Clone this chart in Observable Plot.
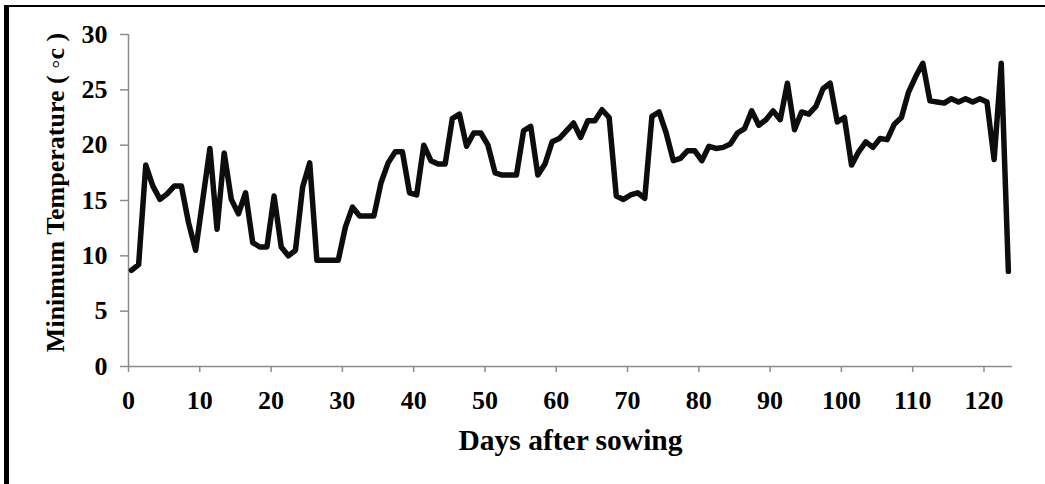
<!DOCTYPE html>
<html>
<head>
<meta charset="utf-8">
<script src="https://cdn.jsdelivr.net/npm/d3@7"></script>
<script src="https://cdn.jsdelivr.net/npm/@observablehq/plot@0.6"></script>
<style>
  html, body { margin: 0; padding: 0; background: #fff; }
  #wrap { position: relative; width: 1045px; height: 484px; overflow: hidden; }
  #edge { position: absolute; left: 4px; top: 5px; right: 0; bottom: 0;
          border-top: 2px solid #000; border-left: 5px solid #000; pointer-events: none; }
  svg { display: block; }
</style>
</head>
<body>
<div id="wrap"><div id="edge"></div></div>
<script>
// Daily minimum temperature after sowing
const days = [
  0, 1, 2, 3, 4, 5, 6, 7, 8, 9,
  10, 11, 12, 13, 14, 15, 16, 17, 18, 19,
  20, 21, 22, 23, 24, 25, 26, 27, 28, 29,
  30, 31, 32, 33, 34, 35, 36, 37, 38, 39,
  40, 41, 42, 43, 44, 45, 46, 47, 48, 49,
  50, 51, 52, 53, 54, 55, 56, 57, 58, 59,
  60, 61, 62, 63, 64, 65, 66, 67, 68, 69,
  70, 71, 72, 73, 74, 75, 76, 77, 78, 79,
  80, 81, 82, 83, 84, 85, 86, 87, 88, 89,
  90, 91, 92, 93, 94, 95, 96, 97, 98, 99,
  100, 101, 102, 103, 104, 105, 106, 107, 108, 109,
  110, 111, 112, 113, 114, 115, 116, 117, 118, 119,
  120, 121, 122, 123
];

const minTemp = [
  8.7, 9.2, 18.2, 16.3, 15.1, 15.6, 16.3, 16.3, 13.0, 10.5,
  15.1, 19.7, 12.4, 19.3, 15.1, 13.8, 15.7, 11.2, 10.8, 10.8,
  15.4, 10.8, 10.0, 10.5, 16.2, 18.4, 9.6, 9.6, 9.6, 9.6,
  12.6, 14.4, 13.6, 13.6, 13.6, 16.6, 18.4, 19.4, 19.4, 15.7,
  15.5, 20.0, 18.6, 18.3, 18.3, 22.4, 22.8, 19.9, 21.1, 21.1,
  20.0, 17.5, 17.3, 17.3, 17.3, 21.3, 21.7, 17.3, 18.3, 20.3,
  20.6, 21.3, 22.0, 20.7, 22.2, 22.2, 23.2, 22.5, 15.4, 15.1,
  15.5, 15.7, 15.2, 22.6, 23.0, 21.1, 18.6, 18.8, 19.5, 19.5,
  18.6, 19.9, 19.7, 19.8, 20.1, 21.1, 21.5, 23.1, 21.8, 22.3,
  23.1, 22.3, 25.6, 21.4, 23.0, 22.8, 23.5, 25.1, 25.6, 22.1,
  22.5, 18.2, 19.4, 20.3, 19.8, 20.6, 20.5, 21.9, 22.5, 24.8,
  26.2, 27.4, 24.0, 23.9, 23.8, 24.2, 23.9, 24.2, 23.9, 24.2,
  23.9, 18.7, 27.4, 8.6
];

const xTicks = [0, 10, 20, 30, 40, 50, 60, 70, 80, 90, 100, 110, 120];
const yTicks = [0, 5, 10, 15, 20, 25, 30];

const xTitle = "Days after sowing";
const yTitle = "Minimum Temperature ( \u25E6c )";

const rows = days.map((d, i) => ({day: d, temp: minTemp[i]}));

const axisGray = "#8c8c8c";
const serif = "'Liberation Serif', 'Times New Roman', serif";

const chart = Plot.plot({
  width: 1045,
  height: 484,
  marginLeft: 128,
  marginRight: 33,
  marginTop: 34,
  marginBottom: 118,
  style: {fontFamily: serif, background: "transparent", color: "#000"},
  x: {domain: [0, 124], ticks: xTicks},
  y: {domain: [0, 30], ticks: yTicks},
  marks: [
    Plot.ruleY([0], {stroke: axisGray, strokeWidth: 1.5}),
    Plot.ruleX([0], {stroke: axisGray, strokeWidth: 1.5}),
    Plot.axisX(xTicks, {
      label: null, tickSize: 6, tickPadding: 18,
      stroke: axisGray, fill: "#000",
      fontSize: 26, fontWeight: "bold", strokeWidth: 1.5
    }),
    Plot.axisY(yTicks, {
      label: null, tickSize: 8, tickPadding: 13,
      stroke: axisGray, fill: "#000",
      fontSize: 26, fontWeight: "bold", strokeWidth: 1.5
    }),
    Plot.line(rows, {
      x: "day", y: "temp", dx: 3,
      stroke: "#0d0d0d", strokeWidth: 5.5,
      strokeLinejoin: "round", strokeLinecap: "round"
    }),
    Plot.text([xTitle], {
      frameAnchor: "bottom", dy: 74,
      textAnchor: "middle", lineAnchor: "middle",
      fontSize: 29.5, fontWeight: "bold", fill: "#000"
    }),
    Plot.text([yTitle], {
      frameAnchor: "left", rotate: -90, dx: -73, dy: -8,
      textAnchor: "middle", lineAnchor: "middle",
      fontSize: 26, fontWeight: "bold", fill: "#000"
    })
  ]
});

document.getElementById("wrap").prepend(chart);
</script>
</body>
</html>
